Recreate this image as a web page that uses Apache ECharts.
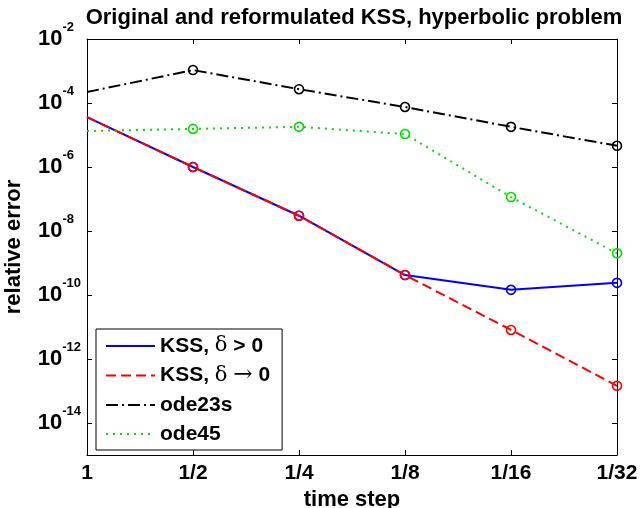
<!DOCTYPE html>
<html>
<head>
<meta charset="utf-8">
<script src="https://cdn.jsdelivr.net/npm/echarts@6/dist/echarts.min.js"></script>
<style>
  html, body { margin: 0; padding: 0; background: #fff; }
  #chart { width: 640px; height: 508px; }
</style>
</head>
<body>
<div id="chart"></div>
<script>
// time steps (x categories)
var steps = ['1', '1/2', '1/4', '1/8', '1/16', '1/32'];
// relative errors
var kssPos = [3.6e-5, 1.0e-6, 3.0e-8, 4.2e-10, 1.45e-10, 2.4e-10];
var kssZero = [3.6e-5, 1.0e-6, 3.0e-8, 4.2e-10, 8.1e-12, 1.45e-13];
var ode23s = [2.2e-4, 1.07e-3, 2.7e-4, 7.5e-5, 1.8e-5, 4.6e-6];
var ode45 = [1.33e-5, 1.55e-5, 1.8e-5, 1.07e-5, 1.15e-7, 2.0e-9];
// y tick values
var yTicks = [1e-14, 1e-12, 1e-10, 1e-8, 1e-6, 1e-4, 1e-2];

var font = 'Liberation Sans';

// first point has no marker in the original
function points(arr) {
    return arr.map(function (v, i) {
        return i === 0 ? { value: v, symbol: 'none' } : v;
    });
}

function makeSeries(name, arr, color, dash) {
    return {
        name: name,
        type: 'line',
        data: points(arr),
        symbol: 'circle',
        symbolSize: 9,
        showAllSymbol: true,
        itemStyle: { color: 'transparent', borderColor: color, borderWidth: 1.6 },
        lineStyle: { color: color, width: 2, type: dash },
        emphasis: { disabled: true },
        animation: false
    };
}

var chart = echarts.init(document.getElementById('chart'));

var axisLine = { show: true, onZero: false, lineStyle: { color: '#000', width: 1 } };
var axisTick = { show: true, inside: true, length: 5, lineStyle: { color: '#000' } };
var supStyle = { fontFamily: font, fontWeight: 'bold', fontSize: 13, color: '#000' };

var option = {
    backgroundColor: '#fff',
    title: {
        text: 'Original and reformulated KSS, hyperbolic problem',
        left: 354,
        textAlign: 'center',
        top: 7,
        padding: 0,
        textStyle: { fontFamily: font, fontWeight: 'bold', fontSize: 22, color: '#000' }
    },
    grid: { left: 87, right: 23, top: 39, bottom: 53, containLabel: false, outerBoundsMode: 'none' },
    legend: {
        orient: 'vertical',
        left: 96,
        top: 329,
        padding: [6, 12, 5, 9],
        itemGap: 7,
        itemWidth: 49,
        itemHeight: 14,
        backgroundColor: '#fff',
        borderColor: '#000',
        borderWidth: 1,
        borderRadius: 0,
        selectedMode: false,
        itemStyle: { color: 'transparent', borderWidth: 0, opacity: 0 },
        data: ['KSS, δ > 0', 'KSS, δ → 0', 'ode23s', 'ode45'],
        formatter: function (name) {
            return name.replace('δ', '{d|δ}').replace('→', '{a|→}');
        },
        textStyle: {
            fontFamily: font, fontWeight: 'bold', fontSize: 21, color: '#000', lineHeight: 22,
            rich: {
                d: { fontFamily: 'DejaVu Serif', fontWeight: 'normal', fontSize: 21, color: '#000', lineHeight: 22 },
                a: { fontFamily: 'DejaVu Serif', fontWeight: 'normal', fontSize: 23, color: '#000', lineHeight: 22 }
            }
        }
    },
    xAxis: [{
        type: 'category',
        data: steps,
        boundaryGap: false,
        name: 'time step',
        nameLocation: 'middle',
        nameGap: 34,
        nameTextStyle: { fontFamily: font, fontWeight: 'bold', fontSize: 22, color: '#000' },
        axisLine: axisLine,
        axisTick: axisTick,
        axisLabel: { fontFamily: font, fontWeight: 'bold', fontSize: 21, color: '#000', margin: 8 },
        splitLine: { show: false }
    }, {
        type: 'category',
        data: steps,
        position: 'top',
        boundaryGap: false,
        axisLine: axisLine,
        axisTick: axisTick,
        axisLabel: { show: false },
        splitLine: { show: false }
    }],
    yAxis: [{
        type: 'log',
        logBase: 10,
        min: 1e-15,
        max: 1e-2,
        name: 'relative error',
        nameLocation: 'middle',
        nameGap: 62,
        nameTextStyle: { fontFamily: font, fontWeight: 'bold', fontSize: 22, color: '#000' },
        axisLine: axisLine,
        axisTick: Object.assign({ customValues: yTicks }, axisTick),
        axisLabel: {
            customValues: yTicks,
            margin: 3,
            formatter: function (v) {
                var e = Math.round(Math.log10(v));
                var key = Math.abs(e) >= 10 ? 's2' : 's1';
                return '{b|10}{' + key + '|' + e + '}';
            },
            rich: {
                b: { fontFamily: font, fontWeight: 'bold', fontSize: 22, color: '#000', width: 25 },
                s1: Object.assign({ padding: [0, 10, 24, 0] }, supStyle),
                s2: Object.assign({ padding: [0, 3, 24, 0] }, supStyle)
            }
        },
        splitLine: { show: false },
        minorTick: { show: false }
    }, {
        type: 'log',
        logBase: 10,
        min: 1e-15,
        max: 1e-2,
        position: 'right',
        axisLine: axisLine,
        axisTick: Object.assign({ customValues: yTicks }, axisTick),
        axisLabel: { show: false },
        splitLine: { show: false },
        minorTick: { show: false }
    }],
    series: [
        makeSeries('KSS, δ > 0', kssPos, '#0000ff', 'solid'),
        makeSeries('KSS, δ → 0', kssZero, '#ff0000', [10, 5]),
        makeSeries('ode23s', ode23s, '#000000', [12, 4, 2, 4]),
        makeSeries('ode45', ode45, '#00dd00', [2, 5])
    ]
};

chart.setOption(option);
</script>
</body>
</html>
